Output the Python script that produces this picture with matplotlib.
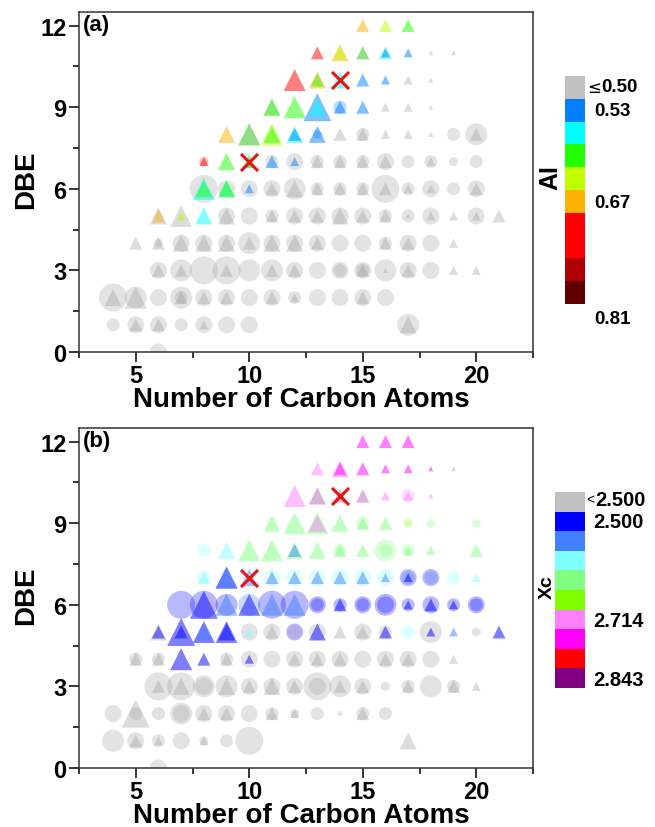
import matplotlib
matplotlib.use('Agg')
import matplotlib.pyplot as plt
import numpy as np
from matplotlib.colors import ListedColormap
from matplotlib.ticker import MultipleLocator

plt.rcParams['font.family'] = ['Liberation Sans', 'DejaVu Sans']
plt.rcParams['font.weight'] = 'bold'

# colour classes (index 0 = grey, below threshold)
ai_colors = ['#c0c0c0', '#0080ff', '#00ffff', '#20ff00', '#c0ff00',
             '#ffb000', '#ff0000', '#ff0000', '#b00000', '#600000']
xc_colors = ['#c0c0c0', '#0000ff', '#4080ff', '#80ffff', '#80ff80',
             '#80ff00', '#ff80ff', '#ff00ff', '#ff0000', '#800080']

# (C number, DBE, abundance level 0-5, colour class)
a_circles = [
    (14, 9, 2, 1),
    (13, 8, 1, 1), (15, 8, 2, 0), (19, 8, 2, 0), (20, 8, 4, 0),
    (8, 7, 1, 6), (11, 7, 2, 0), (12, 7, 3, 0), (13, 7, 2, 0), (14, 7, 2, 0),
    (15, 7, 2, 0), (16, 7, 3, 0), (17, 7, 2, 0), (18, 7, 2, 0), (19, 7, 1, 0), (20, 7, 2, 0),
    (8, 6, 5, 0), (9, 6, 3, 0), (10, 6, 3, 0), (11, 6, 3, 0), (12, 6, 4, 0), (13, 6, 2, 0),
    (14, 6, 2, 0), (15, 6, 2, 0), (16, 6, 5, 0), (17, 6, 2, 0), (18, 6, 3, 0), (19, 6, 2, 0),
    (20, 6, 3, 0),
    (9, 5, 3, 0), (10, 5, 3, 0), (11, 5, 2, 0), (12, 5, 3, 0), (13, 5, 3, 0), (14, 5, 3, 0),
    (15, 5, 3, 0), (16, 5, 2, 0), (17, 5, 2, 0), (18, 5, 3, 0), (20, 5, 3, 0),
    (6, 4, 1, 0), (7, 4, 3, 0), (8, 4, 3, 0), (9, 4, 3, 0), (10, 4, 4, 0), (11, 4, 3, 0),
    (12, 4, 3, 0), (13, 4, 3, 0), (14, 4, 3, 0), (15, 4, 3, 0), (16, 4, 2, 0), (17, 4, 3, 0),
    (18, 4, 3, 0),
    (6, 3, 3, 0), (7, 3, 4, 0), (8, 3, 5, 0), (9, 3, 5, 0), (10, 3, 4, 0), (11, 3, 4, 0),
    (12, 3, 3, 0), (13, 3, 3, 0), (14, 3, 3, 0), (14, 3, 2, 0), (15, 3, 3, 0), (15, 3, 2, 0),
    (16, 3, 4, 0), (17, 3, 3, 0), (18, 3, 3, 0),
    (4, 2, 5, 0), (5, 2, 4, 0), (6, 2, 3, 0), (7, 2, 4, 0), (7, 2, 2, 0), (8, 2, 3, 0),
    (9, 2, 3, 0), (10, 2, 3, 0), (11, 2, 3, 0), (12, 2, 2, 0), (13, 2, 3, 0), (14, 2, 3, 0),
    (15, 2, 3, 0), (16, 2, 3, 0),
    (4, 1, 2, 0), (5, 1, 3, 0), (6, 1, 3, 0), (7, 1, 2, 0), (8, 1, 3, 0), (9, 1, 3, 0),
    (10, 1, 3, 0), (17, 1, 4, 0),
    (6, 0, 3, 0),
]
a_triangles = [
    (15, 12, 2, 5), (16, 12, 2, 4), (17, 12, 2, 3),
    (13, 11, 2, 6), (14, 11, 3, 5), (14, 11, 2, 4), (15, 11, 2, 3), (15, 11, 2, 0),
    (16, 11, 2, 2), (16, 11, 1, 1), (17, 11, 1, 1), (18, 11, 0, 0), (19, 11, 0, 0),
    (12, 10, 4, 6), (13, 10, 3, 5), (13, 10, 2, 3), (14, 10, 3, 2), (15, 10, 2, 1),
    (16, 10, 1, 1), (17, 10, 1, 0), (18, 10, 0, 0),
    (11, 9, 3, 0), (11, 9, 3, 3), (12, 9, 4, 3), (13, 9, 5, 1), (13, 9, 3, 2), (14, 9, 2, 1),
    (15, 9, 2, 1), (16, 9, 1, 0), (17, 9, 1, 0), (18, 9, 0, 0),
    (9, 8, 3, 5), (10, 8, 4, 3), (10, 8, 4, 0), (11, 8, 4, 4), (11, 8, 3, 3), (12, 8, 3, 2),
    (12, 8, 2, 1), (13, 8, 3, 1), (14, 8, 2, 0), (15, 8, 2, 0), (16, 8, 1, 0), (17, 8, 1, 0),
    (18, 8, 0, 0), (20, 8, 2, 0),
    (8, 7, 1, 6), (9, 7, 3, 3), (10, 7, 2, 2), (10, 7, 2, 3), (11, 7, 2, 1), (12, 7, 1, 1),
    (13, 7, 2, 0), (14, 7, 2, 0), (15, 7, 2, 0), (16, 7, 2, 0), (18, 7, 1, 0),
    (8, 6, 4, 2), (8, 6, 3, 3), (9, 6, 3, 2), (9, 6, 3, 3), (10, 6, 1, 1), (11, 6, 2, 0),
    (12, 6, 3, 0), (13, 6, 2, 0), (14, 6, 2, 0), (15, 6, 2, 0), (16, 6, 2, 0), (17, 6, 1, 0),
    (18, 6, 1, 0), (20, 6, 2, 0),
    (6, 5, 3, 0), (6, 5, 2, 5), (7, 5, 4, 0), (7, 5, 1, 4), (8, 5, 3, 2), (9, 5, 3, 0),
    (11, 5, 2, 0), (12, 5, 2, 0), (13, 5, 2, 0), (14, 5, 3, 0), (15, 5, 2, 0), (16, 5, 2, 0),
    (17, 5, 0, 0), (18, 5, 1, 0), (19, 5, 1, 0), (20, 5, 1, 0), (21, 5, 2, 0),
    (5, 4, 2, 0), (6, 4, 2, 0), (7, 4, 3, 0), (8, 4, 3, 0), (9, 4, 3, 0), (10, 4, 2, 0),
    (11, 4, 3, 0), (12, 4, 3, 0), (13, 4, 2, 0), (16, 4, 2, 0), (17, 4, 2, 0), (19, 4, 1, 0),
    (6, 3, 2, 0), (7, 3, 2, 0), (9, 3, 2, 0), (11, 3, 2, 0), (12, 3, 2, 0), (15, 3, 2, 0),
    (16, 3, 0, 0), (17, 3, 2, 0), (19, 3, 1, 0), (20, 3, 1, 0),
    (4, 2, 3, 0), (5, 2, 4, 0), (7, 2, 2, 0), (8, 2, 2, 0), (9, 2, 2, 0), (11, 2, 2, 0),
    (12, 2, 1, 0), (15, 2, 2, 0),
    (5, 1, 2, 0), (6, 1, 2, 0), (8, 1, 1, 0), (17, 1, 3, 0),
]

b_circles = [
    (17, 10, 2, 6),
    (15, 9, 2, 4), (17, 9, 1, 5), (18, 9, 1, 4), (20, 9, 1, 4),
    (8, 8, 2, 3), (14, 8, 2, 4), (16, 8, 4, 4), (16, 8, 2, 4), (17, 8, 2, 4),
    (8, 7, 2, 3), (11, 7, 3, 3), (12, 7, 3, 3), (13, 7, 3, 3), (14, 7, 3, 3), (15, 7, 3, 3),
    (16, 7, 3, 3), (17, 7, 3, 1), (17, 7, 2, 2), (18, 7, 3, 1), (18, 7, 2, 2), (19, 7, 2, 3),
    (7, 6, 5, 1), (8, 6, 5, 1), (9, 6, 4, 1), (10, 6, 4, 2), (11, 6, 5, 1), (12, 6, 5, 1),
    (13, 6, 3, 1), (13, 6, 2, 1), (14, 6, 2, 1), (15, 6, 3, 1), (15, 6, 2, 1), (16, 6, 4, 1),
    (16, 6, 3, 1), (17, 6, 2, 1), (18, 6, 3, 1), (19, 6, 2, 1), (20, 6, 3, 1), (20, 6, 2, 1),
    (10, 5, 3, 0), (11, 5, 3, 0), (12, 5, 3, 1), (12, 5, 2, 0), (13, 5, 3, 0), (15, 5, 3, 0),
    (16, 5, 2, 0), (17, 5, 2, 3), (18, 5, 4, 0), (20, 5, 1, 0),
    (5, 4, 2, 0), (6, 4, 2, 0), (9, 4, 2, 0), (10, 4, 3, 0), (11, 4, 3, 0), (12, 4, 3, 0),
    (13, 4, 3, 0), (14, 4, 3, 0), (15, 4, 3, 0), (16, 4, 3, 0), (17, 4, 3, 0), (18, 4, 3, 0),
    (6, 3, 5, 0), (7, 3, 5, 0), (8, 3, 4, 0), (8, 3, 3, 0), (9, 3, 4, 0), (10, 3, 3, 0),
    (11, 3, 3, 0), (12, 3, 3, 0), (13, 3, 5, 0), (13, 3, 3, 0), (14, 3, 4, 0), (15, 3, 3, 0),
    (16, 3, 1, 0), (17, 3, 2, 0), (18, 3, 4, 0), (19, 3, 2, 0),
    (4, 2, 3, 0), (5, 2, 2, 0), (6, 2, 2, 0), (7, 2, 4, 0), (7, 2, 3, 0), (8, 2, 3, 0),
    (9, 2, 3, 0), (10, 2, 3, 0), (11, 2, 2, 0), (12, 2, 1, 0), (13, 2, 2, 0), (14, 2, 0, 0),
    (15, 2, 2, 0), (16, 2, 2, 0),
    (4, 1, 4, 0), (5, 1, 3, 0), (6, 1, 2, 0), (7, 1, 3, 0), (8, 1, 1, 0), (9, 1, 2, 0),
    (10, 1, 5, 0),
    (6, 0, 3, 0),
]
b_triangles = [
    (15, 12, 2, 7), (16, 12, 2, 7), (17, 12, 2, 7),
    (13, 11, 2, 6), (14, 11, 3, 6), (14, 11, 2, 7), (15, 11, 2, 7), (16, 11, 1, 7),
    (17, 11, 1, 7), (18, 11, 0, 7), (19, 11, 0, 0),
    (12, 10, 4, 6), (13, 10, 3, 6), (13, 10, 3, 0), (14, 10, 2, 6), (14, 10, 2, 0),
    (15, 10, 2, 6), (15, 10, 2, 0), (16, 10, 1, 6), (17, 10, 1, 6), (18, 10, 0, 6),
    (11, 9, 3, 4), (12, 9, 4, 4), (13, 9, 4, 4), (13, 9, 3, 6), (14, 9, 3, 4), (15, 9, 2, 4),
    (16, 9, 2, 4),
    (9, 8, 3, 3), (10, 8, 4, 4), (11, 8, 4, 4), (12, 8, 3, 4), (12, 8, 2, 2), (13, 8, 3, 4),
    (14, 8, 2, 4), (15, 8, 2, 4), (17, 8, 1, 4), (18, 8, 1, 4), (20, 8, 2, 4),
    (8, 7, 2, 3), (9, 7, 4, 1), (9, 7, 4, 2), (10, 7, 3, 2), (11, 7, 2, 2), (12, 7, 2, 2),
    (13, 7, 2, 2), (14, 7, 2, 2), (15, 7, 2, 2), (16, 7, 1, 2), (17, 7, 1, 1), (20, 7, 1, 3),
    (8, 6, 5, 1), (9, 6, 4, 2), (10, 6, 4, 1), (11, 6, 4, 2), (12, 6, 4, 2), (14, 6, 2, 1),
    (17, 6, 1, 1), (18, 6, 2, 1), (19, 6, 1, 1),
    (6, 5, 3, 0), (6, 5, 2, 1), (7, 5, 5, 1), (7, 5, 2, 1), (8, 5, 4, 1), (8, 5, 3, 2),
    (9, 5, 4, 1), (9, 5, 3, 1), (10, 5, 1, 3), (11, 5, 2, 0), (13, 5, 3, 1), (14, 5, 2, 0),
    (15, 5, 2, 0), (16, 5, 2, 1), (18, 5, 1, 1), (19, 5, 1, 2), (21, 5, 2, 1),
    (5, 4, 2, 0), (6, 4, 2, 0), (7, 4, 4, 1), (8, 4, 2, 1), (9, 4, 2, 0), (10, 4, 1, 1),
    (12, 4, 2, 0), (13, 4, 2, 0), (14, 4, 2, 0), (16, 4, 2, 0), (17, 4, 2, 0), (19, 4, 1, 0),
    (6, 3, 2, 0), (7, 3, 3, 0), (9, 3, 3, 0), (10, 3, 2, 0), (11, 3, 3, 0), (12, 3, 2, 0),
    (14, 3, 2, 0), (15, 3, 2, 0), (17, 3, 2, 0), (19, 3, 2, 0), (20, 3, 1, 0),
    (5, 2, 5, 0), (8, 2, 2, 0), (9, 2, 2, 0), (11, 2, 2, 0), (12, 2, 1, 0), (15, 2, 2, 0),
    (5, 1, 2, 0), (6, 1, 1, 0), (8, 1, 1, 0), (17, 1, 3, 0),
]

cross_c = [10, 14]
cross_dbe = [7, 10]

ai_labels = ['0.50', '0.53', '0.67', '0.81']
xc_labels = ['2.500', '2.500', '2.714', '2.843']

# marker diameter in pixels for each abundance level
LEVEL_PX = [5, 9, 13, 17, 22, 28]


def _sizes(levels):
    return [(LEVEL_PX[lv] * 0.72) ** 2 for lv in levels]


def _scatter(ax, pts, colors, marker, a_grey, a_col):
    c = [p[0] for p in pts]
    d = [p[1] for p in pts]
    s = _sizes([p[2] for p in pts])
    rgba = []
    for p in pts:
        col = matplotlib.colors.to_rgba(colors[p[3]] if p[3] else '#9a9a9a')
        rgba.append((col[0], col[1], col[2], a_grey if p[3] == 0 else a_col))
    ax.scatter(c, d, s=s, c=rgba, marker=marker, edgecolors='none', zorder=2)


def _panel(ax, circles, triangles, colors, tag):
    _scatter(ax, circles, colors, 'o', 0.27, 0.28)
    _scatter(ax, triangles, colors, '^', 0.34, 0.5)
    ax.scatter(cross_c, cross_dbe, s=150, marker='x', color='#ee1111',
               linewidths=2.2, zorder=4)
    ax.set_xlim(2.5, 22.5)
    ax.set_ylim(0, 12.5)
    ax.xaxis.set_major_locator(MultipleLocator(5))
    ax.xaxis.set_minor_locator(MultipleLocator(2.5))
    ax.yaxis.set_major_locator(MultipleLocator(3))
    ax.yaxis.set_minor_locator(MultipleLocator(1.5))
    ax.tick_params(which='major', direction='out', length=7, width=1.1,
                   labelsize=17, pad=2)
    ax.tick_params(which='minor', direction='out', length=4, width=1.1)
    for lbl in ax.get_xticklabels() + ax.get_yticklabels():
        lbl.set_fontweight('bold')
    for sp in ax.spines.values():
        sp.set_linewidth(1.1)
        sp.set_color('#333333')
    ax.set_xlabel('Number of Carbon Atoms', fontsize=20, fontweight='bold', va='center')
    ax.xaxis.set_label_coords(0.49, -0.138)
    ax.set_ylabel('DBE', fontsize=20, fontweight='bold', va='center')
    ax.yaxis.set_label_coords(-0.117, 0.51)
    ax.text(0.008, 0.962, tag, transform=ax.transAxes, fontsize=16,
            fontweight='bold', ha='left', va='center')


def _colorbar(fig, rect, colors):
    cax = fig.add_axes(rect)
    cax.imshow(np.arange(len(colors)).reshape(-1, 1), cmap=ListedColormap(colors),
               aspect='auto', interpolation='nearest')
    cax.set_axis_off()
    return cax


W, H = 655, 828
fig = plt.figure(figsize=(W / 100, H / 100), dpi=100)
fig.patch.set_facecolor('white')


def fx(px):
    return px / W


def fy(py):
    return 1 - py / H


ax_a = fig.add_axes([fx(79), fy(353), fx(533) - fx(79), fy(13) - fy(353)])
ax_b = fig.add_axes([fx(79), fy(769), fx(533) - fx(79), fy(429) - fy(769)])
_panel(ax_a, a_circles, a_triangles, ai_colors, '(a)')
_panel(ax_b, b_circles, b_triangles, xc_colors, '(b)')

_colorbar(fig, [fx(565), fy(305), fx(585) - fx(565), fy(77) - fy(305)], ai_colors)
_colorbar(fig, [fx(555), fy(689), fx(585) - fx(555), fy(493) - fy(689)], xc_colors)

# AI colour bar labels
fig.text(fx(587), fy(88), '\u2264', fontsize=12, fontweight='normal',
         ha='left', va='center', family='DejaVu Sans')
fig.text(fx(601), fy(88), ai_labels[0], fontsize=13.5, ha='left', va='center')
fig.text(fx(594), fy(112), ai_labels[1], fontsize=13.5, ha='left', va='center')
fig.text(fx(594), fy(203), ai_labels[2], fontsize=13.5, ha='left', va='center')
fig.text(fx(594), fy(320), ai_labels[3], fontsize=13.5, ha='left', va='center')
fig.text(fx(550), fy(178), 'AI', fontsize=18, rotation=90, ha='center', va='center')

# Xc colour bar labels
fig.text(fx(586), fy(500), '<', fontsize=10, fontweight='normal',
         ha='left', va='center')
fig.text(fx(595), fy(501), xc_labels[0], fontsize=14.5, ha='left', va='center')
fig.text(fx(593), fy(522), xc_labels[1], fontsize=14.5, ha='left', va='center')
fig.text(fx(593), fy(622), xc_labels[2], fontsize=14.5, ha='left', va='center')
fig.text(fx(593), fy(681), xc_labels[3], fontsize=14.5, ha='left', va='center')
fig.text(fx(547), fy(587), 'Xc', fontsize=14, rotation=90, ha='center', va='center')

fig.savefig('out.png', dpi=100, facecolor='white')
plt.close(fig)
